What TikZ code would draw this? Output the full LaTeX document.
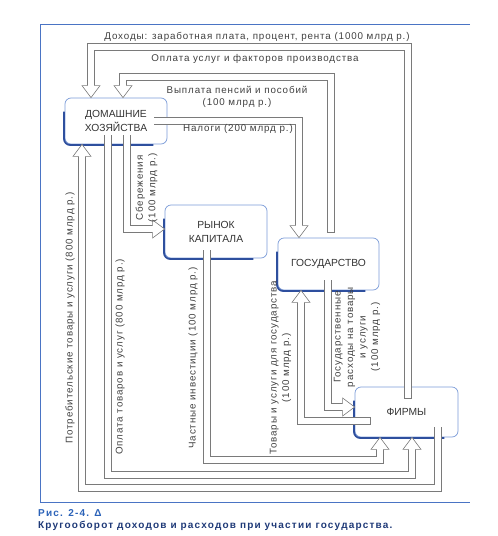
\documentclass[tikz,border=0pt]{standalone}
\usepackage{fontspec}
\setmainfont{Liberation Sans}
\newfontfamily\lblfont[LetterSpace=9]{Liberation Sans}
\newfontfamily\capfont[LetterSpace=12]{Liberation Sans}
\usetikzlibrary{calc}
\definecolor{flowgray}{HTML}{7A7A7A}
\definecolor{boxblue}{HTML}{7B9BD8}
\definecolor{shadowblue}{HTML}{2E4F9E}
\definecolor{frameblue}{HTML}{4A74C4}
\definecolor{capblue}{HTML}{2B62B8}
\definecolor{capnavy}{HTML}{1F3A78}
\begin{document}
\begin{tikzpicture}[x=1pt,y=-1pt,
  box/.style={draw=boxblue, line width=0.7pt, rounded corners=6pt, fill=white, align=center,
    font=\fontsize{10.3}{14}\selectfont, text=black!80},
  boxshadow/.style={draw=shadowblue, line width=1.8pt, rounded corners=6pt},
  flow/.style={draw=flowgray, line width=0.6pt, double=white, double distance=6.5pt,
    line cap=rect, line join=miter, shorten >=10pt},
  lbl/.style={font=\lblfont\fontsize{9.8}{12.5}\selectfont, text=black!75, inner sep=0pt},
  hhead/.pic={\path[fill=white, draw=flowgray, line width=0.6pt, line join=miter]
    (-12,3.55) -- (-12,9) -- (0,0) -- (-12,-9) -- (-12,-3.55);}
]
\useasboundingbox (0,0) rectangle (498,536);
% frame
\coordinate (fa) at (470,24);
\coordinate (fb) at (40,24);
\coordinate (fc) at (40,502);
\coordinate (fd) at (470,502);
\draw[frameblue, line width=0.9pt] (fa) -- (fb) -- (fc) -- (fd);

% boxes
\node[box, minimum width=102pt, minimum height=46pt] (hh) at (116,121) {ДОМАШНИЕ\\ХОЗЯЙСТВА};
\node[box, minimum width=102pt, minimum height=53pt] (kap) at (216,231.5) {РЫНОК\\КАПИТАЛА};
\node[box, minimum width=101pt, minimum height=52pt] (gov) at (328.5,264) {ГОСУДАРСТВО};
\node[box, minimum width=103pt, minimum height=50pt] (firms) at (406.5,412) {ФИРМЫ};
\foreach \b in {hh,kap,gov,firms}{
  \draw[boxshadow] ($(\b.north west)+(-0.6,14)$) |- ($(\b.south east)+(-14,0.6)$);
}

% levels of the outer runs
\coordinate (ytop1) at (0,47);
\coordinate (ytop2) at (0,77);
\coordinate (ybot7) at (0,460);
\coordinate (ybot5) at (0,475);
\coordinate (ybot6) at (0,488);

% tails
\coordinate (t1) at ($(firms.north)+(1.5,8)$);
\coordinate (t2) at ($(gov.north)+(2.5,-9)$);
\coordinate (t3) at ($(hh.east)+(-10,0)$);
\coordinate (t4) at ($(hh.south)+(11,-6)$);
\coordinate (t5) at ($(hh.south)+(-8,-6)$);
\coordinate (t6) at ($(firms.south)+(31.5,-7)$);
\coordinate (t7) at ($(kap.south)+(-9,-5)$);
\coordinate (t8) at ($(gov.south)+(-0.5,-7)$);
\coordinate (t9) at ($(firms.west)+(12,9)$);

% heads
\coordinate (h1) at ($(hh.north)+(-25,0)$);
\coordinate (h2) at ($(hh.north)+(7,0)$);
\coordinate (h3) at ($(gov.north)+(-29.5,0)$);
\coordinate (h4) at ($(kap.west)+(0,-2.5)$);
\coordinate (h5) at ($(firms.south)+(5.5,0)$);
\coordinate (h6) at ($(hh.south)+(-34,0)$);
\coordinate (h7) at ($(firms.south)+(-26.5,0)$);
\coordinate (h8) at ($(firms.west)+(0,-5)$);
\coordinate (h9) at ($(gov.south)+(-27.5,0)$);

% connectors
\draw[flow] (t1) -- (t1 |- ytop1) -- (h1 |- ytop1) -- (h1);
\draw[flow] (t2) -- (t2 |- ytop2) -- (h2 |- ytop2) -- (h2);
\draw[flow] (t3) -| (h3);
\draw[flow] (t4) |- (h4);
\draw[flow] (t5) -- (t5 |- ybot5) -- (h5 |- ybot5) -- (h5);
\draw[flow] (t6) -- (t6 |- ybot6) -- (h6 |- ybot6) -- (h6);
\draw[flow] (t7) -- (t7 |- ybot7) -- (h7 |- ybot7) -- (h7);
\draw[flow] (t8) |- (h8);
\draw[flow] (t9) -| (h9);

\pic[rotate=-90] at (h1) {hhead};
\pic[rotate=-90] at (h2) {hhead};
\pic[rotate=-90] at (h3) {hhead};
\pic at (h4) {hhead};
\pic[rotate=90] at (h5) {hhead};
\pic[rotate=90] at (h6) {hhead};
\pic[rotate=90] at (h7) {hhead};
\pic at (h8) {hhead};
\pic[rotate=90] at (h9) {hhead};

% labels
\node[lbl] (ldoh) at (257,37) {Доходы: заработная плата, процент, рента (1000 млрд р.)};
\node[lbl] (lopl) at (255,59) {Оплата услуг и факторов производства};
\node[lbl, align=center] (lpen) at (237,97) {Выплата пенсий и пособий\\(100 млрд р.)};
\node[lbl, anchor=west] (lnal) at (183,129) {Налоги (200 млрд р.)};
\node[lbl, rotate=90, align=center] (lsb) at (146.5,188) {Сбережения\\(100 млрд р.)};
\node[lbl, rotate=90] (lpot) at (70,318) {Потребительские товары и услуги (800 млрд р.)};
\node[lbl, rotate=90] (lopt) at (120,357) {Оплата товаров и услуг (800 млрд р.)};
\node[lbl, rotate=90] (lchi) at (193,358) {Частные инвестиции (100 млрд р.)};
\node[lbl, rotate=90, align=center] (ltov) at (280.5,368) {Товары и услуги для государства\\(100 млрд р.)};
\node[lbl, rotate=90, align=center] (lgos) at (357,337) {Государственные\\расходы на товары\\и услуги\\(100 млрд р.)};

% caption
\node[anchor=west, inner sep=0pt, text=capblue, font=\capfont\bfseries\fontsize{10}{11}\selectfont] (cap1) at (38,513) {Рис. 2-4. Δ};
\node[anchor=west, inner sep=0pt, text=capnavy, font=\capfont\bfseries\fontsize{10}{11}\selectfont] (cap2) at (38,526) {Кругооборот доходов и расходов при участии государства.};
\end{tikzpicture}
\end{document}
